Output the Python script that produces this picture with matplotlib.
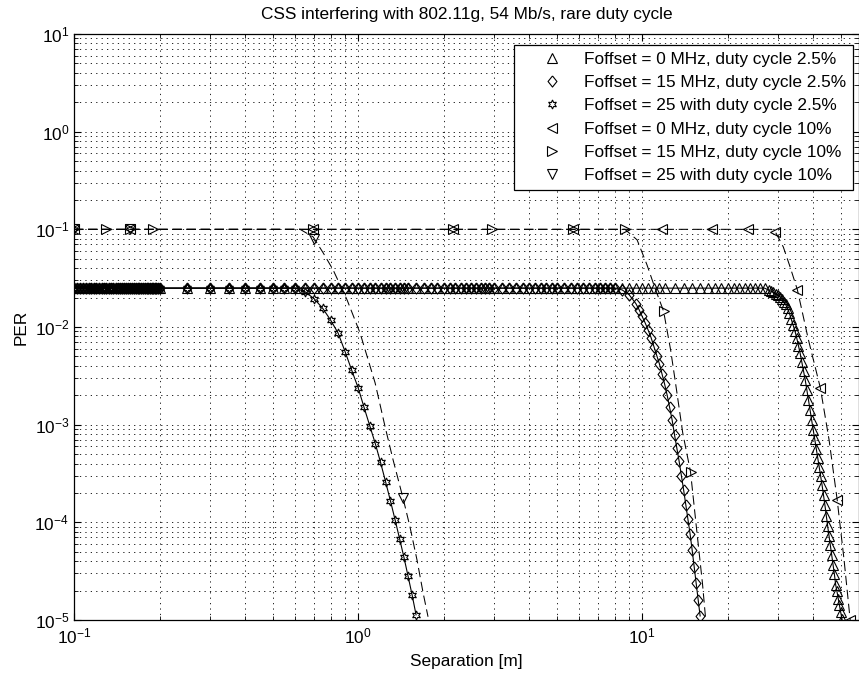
import matplotlib
matplotlib.use('Agg')
import matplotlib.pyplot as plt
from matplotlib.ticker import FixedLocator, NullFormatter

plt.rcParams['font.family'] = ['Liberation Sans', 'DejaVu Sans']
plt.rcParams['mathtext.default'] = 'regular'

# --- datos ---
per_25 = 0.025   # PER plano, duty cycle 2.5%
per_10 = 0.1     # PER plano, duty cycle 10%

# tramo plano comun de las curvas de 2.5%
x_flat_a = [0.1, 0.1025, 0.105, 0.1075, 0.11, 0.1125, 0.115, 0.1175, 0.12, 0.1225,
            0.125, 0.1275, 0.13, 0.1325, 0.135, 0.1375, 0.14, 0.1425, 0.145, 0.1475,
            0.15, 0.1525, 0.155, 0.1575, 0.16, 0.1625, 0.165, 0.1675, 0.17, 0.1725,
            0.175, 0.1775, 0.18, 0.1825, 0.185, 0.1875, 0.19, 0.1925, 0.195, 0.1975,
            0.2, 0.25, 0.3, 0.35, 0.4, 0.45, 0.5, 0.55, 0.6]
x_flat_b = [0.65, 0.7, 0.75, 0.8, 0.85, 0.9, 0.95, 1.0, 1.05, 1.1, 1.15, 1.2, 1.25,
            1.3, 1.35, 1.4, 1.45, 1.5, 1.6, 1.7, 1.8, 1.9, 2.0, 2.1, 2.2, 2.3, 2.4,
            2.5, 2.6, 2.7, 2.8, 2.9, 3.0, 3.2, 3.4, 3.6, 3.8, 4.0, 4.2, 4.4, 4.6,
            4.8, 5.0, 5.3, 5.6, 5.9, 6.2, 6.5, 6.8, 7.1, 7.4, 7.7]
x_flat_c = [8.0, 8.5, 9.0, 9.5, 10.0, 10.5, 11.0, 11.5, 12.0, 13.0, 14.0, 15.0,
            16.0, 17.0, 18.0, 19.0, 20.0, 21.0, 22.0, 23.0, 24.0, 25.0, 26.0, 27.0]

# caida Foffset = 25, 2.5%
star_drop_x = [0.65, 0.7, 0.75, 0.8, 0.85, 0.9, 0.95, 1.0, 1.05, 1.1, 1.15, 1.2,
               1.25, 1.3, 1.35, 1.4, 1.45, 1.5, 1.55, 1.6]
star_drop_y = [0.023, 0.0195, 0.0156, 0.0118, 0.0087, 0.0056, 0.0036, 0.0024,
               0.0015, 0.00097, 0.00064, 0.00041, 0.00026, 0.000166, 0.000106,
               6.8e-5, 4.4e-5, 2.8e-5, 1.8e-5, 1.13e-5]

# caida Foffset = 15 MHz, 2.5%
diam_drop_x = [8.0, 8.5, 9.0, 9.5, 9.75, 10.0, 10.25, 10.5, 10.75, 11.0, 11.25,
               11.5, 11.75, 12.0, 12.25, 12.5, 12.75, 13.0, 13.25, 13.5, 13.75,
               14.0, 14.25, 14.5, 14.75, 15.0, 15.25, 15.5, 15.75, 16.0]
diam_drop_y = [0.0248, 0.024, 0.0214, 0.0174, 0.0151, 0.0129, 0.011, 0.0093,
               0.0078, 0.0063, 0.0051, 0.0042, 0.0033, 0.0026, 0.002, 0.0015,
               0.00112, 7.9e-4, 5.75e-4, 4.2e-4, 3.0e-4, 2.14e-4, 1.5e-4,
               1.07e-4, 7.6e-5, 5.2e-5, 3.5e-5, 2.4e-5, 1.6e-5, 1.1e-5]

# caida Foffset = 0 MHz, 2.5%
tri_drop_x = [28, 28.5, 29, 29.5, 30, 30.5, 31, 31.5, 32, 32.5, 33, 33.5, 34, 34.5,
              35, 35.5, 36, 36.5, 37, 37.5, 38, 38.5, 39, 39.5, 40, 40.5, 41, 41.5,
              42, 42.5, 43, 43.5, 44, 44.5, 45, 45.5, 46, 46.5, 47, 47.5, 48, 48.5,
              49, 49.5, 50, 50.5, 51]
tri_drop_y = [0.0237, 0.0232, 0.0226, 0.022, 0.0214, 0.0204, 0.0195, 0.0182, 0.017,
              0.0155, 0.0138, 0.012, 0.0105, 0.00912, 0.00776, 0.00646, 0.00537,
              0.00437, 0.00355, 0.00288, 0.00229, 0.0018, 0.00141, 0.00112, 8.9e-4,
              7.1e-4, 5.6e-4, 4.6e-4, 3.7e-4, 3.0e-4, 2.4e-4, 1.9e-4, 1.5e-4,
              1.16e-4, 9.1e-5, 7.2e-5, 5.8e-5, 4.6e-5, 3.7e-5, 2.95e-5, 2.3e-5,
              1.97e-5, 1.66e-5, 1.41e-5, 1.2e-5, 1.03e-5, 8.9e-6]

# curvas de 10% (linea discontinua)
left_line_x = [0.1, 28.5, 29.4, 31.4, 33.2, 35.2, 38.5, 42.4, 45.5, 48.6, 51.4, 54.0]
left_line_y = [0.1, 0.1, 0.095, 0.066, 0.041, 0.024, 0.00738, 0.00238, 7.0e-4,
               1.7e-4, 4.1e-5, 1.0e-5]
left_mark_x = [0.1, 0.157, 0.695, 2.16, 5.71, 11.7, 17.6, 23.6, 29.4, 35.2, 42.4, 48.6, 54.0]
left_mark_y = [0.1, 0.1, 0.1, 0.1, 0.1, 0.1, 0.1, 0.1, 0.095, 0.024, 0.00238, 1.7e-4, 1.0e-5]

right_line_x = [0.1, 8.7, 9.6, 10.4, 11.1, 11.9, 12.6, 13.1, 13.9, 14.8, 15.6, 16.3, 16.8]
right_line_y = [0.1, 0.1, 0.078, 0.0433, 0.025, 0.0145, 0.0058, 0.0027, 8.2e-4,
                3.3e-4, 7.8e-5, 2.4e-5, 9.0e-6]
right_mark_x = [0.1, 0.13, 0.157, 0.19, 0.695, 2.16, 2.96, 5.71, 8.7, 11.9, 14.8]
right_mark_y = [0.1, 0.1, 0.1, 0.1, 0.1, 0.1, 0.1, 0.1, 0.1, 0.0145, 3.3e-4]

down_line_x = [0.1, 0.625, 0.695, 0.754, 0.817, 0.915, 1.016, 1.148, 1.245, 1.328,
               1.439, 1.523, 1.613, 1.694, 1.763]
down_line_y = [0.1, 0.1, 0.0836, 0.0573, 0.0384, 0.0189, 0.0087, 0.00268, 9.5e-4,
               4.37e-4, 1.78e-4, 9.0e-5, 4.1e-5, 1.9e-5, 1.08e-5]
down_mark_x = [0.1, 0.157, 0.7, 1.439]
down_mark_y = [0.1, 0.1, 0.08, 1.78e-4]

labels = ['Foffset = 0 MHz, duty cycle 2.5%',
          'Foffset = 15 MHz, duty cycle 2.5%',
          'Foffset = 25 with duty cycle 2.5%',
          'Foffset = 0 MHz, duty cycle 10%',
          'Foffset = 15 MHz, duty cycle 10%',
          'Foffset = 25 with duty cycle 10%']

x_ticks = [0.1, 1, 10]
y_ticks = [1e-5, 1e-4, 1e-3, 1e-2, 1e-1, 1, 10]
x_minor = [0.2, 0.3, 0.4, 0.5, 0.6, 0.7, 0.8, 0.9, 2, 3, 4, 5, 6, 7, 8, 9,
           20, 30, 40, 50]
y_minor = [m * d for d in y_ticks[:-1] for m in (2, 3, 4, 5, 6, 7, 8, 9)]

# --- series armadas ---
tri_x = x_flat_a + x_flat_b + x_flat_c + tri_drop_x
tri_y = [per_25] * len(x_flat_a + x_flat_b + x_flat_c) + tri_drop_y
diam_x = x_flat_a + x_flat_b + diam_drop_x
diam_y = [per_25] * len(x_flat_a + x_flat_b) + diam_drop_y
star_x = x_flat_a + star_drop_x
star_y = [per_25] * len(x_flat_a) + star_drop_y

FS = 12.4
fig = plt.figure(figsize=(8.59, 6.73), dpi=100)
ax = fig.add_axes([74 / 859, 53 / 673, 785 / 859, 586 / 673])
ax.set_xscale('log')
ax.set_yscale('log')

mk = dict(color='k', mfc='none', mec='k', mew=0.8, ls='none')
dash = (0, (9, 4.5))
diamond = [(0, 1), (0.8, 0), (0, -1), (-0.8, 0), (0, 1)]

# lineas
ax.plot(tri_x, tri_y, color='k', lw=0.8)
ax.plot(diam_x, diam_y, color='k', lw=0.8)
ax.plot(star_x, star_y, color='k', lw=0.8)
ax.plot(left_line_x, left_line_y, color='k', lw=0.75, ls=dash)
ax.plot(right_line_x, right_line_y, color='k', lw=0.75, ls=dash)
ax.plot(down_line_x, down_line_y, color='k', lw=0.75, ls=dash)

# marcadores
ax.plot(tri_x, tri_y, marker='^', ms=6.5, label=labels[0], **mk)
ax.plot(diam_x, diam_y, marker=diamond, ms=8, label=labels[1], **mk)
ax.plot(star_x, star_y, marker=(6, 1, 0), ms=6.5, label=labels[2], **mk)
ax.plot(left_mark_x, left_mark_y, marker='<', ms=6.5, label=labels[3], **mk)
ax.plot(right_mark_x, right_mark_y, marker='>', ms=6.5, label=labels[4], **mk)
ax.plot(down_mark_x, down_mark_y, marker='v', ms=6.5, label=labels[5], **mk)

ax.set_xlim(0.1, 58)
ax.set_ylim(1e-5, 10)
ax.set_xticks(x_ticks)
ax.set_yticks(y_ticks)
ax.xaxis.set_minor_locator(FixedLocator(x_minor))
ax.yaxis.set_minor_locator(FixedLocator(y_minor))
ax.xaxis.set_minor_formatter(NullFormatter())
ax.yaxis.set_minor_formatter(NullFormatter())

ax.grid(True, which='both', color='k', lw=0.6, ls=(0, (1.5, 5)))
ax.set_axisbelow(True)
ax.tick_params(which='both', direction='in', top=True, right=True, labelsize=FS)
ax.tick_params(which='major', length=5)
ax.tick_params(which='minor', length=3)
ax.tick_params(axis='x', pad=5)
for s in ax.spines.values():
    s.set_linewidth(0.9)

ax.set_title('CSS interfering with 802.11g, 54 Mb/s, rare duty cycle', fontsize=FS, pad=11)
ax.set_xlabel('Separation [m]', fontsize=FS, labelpad=5)
ax.set_ylabel('PER', fontsize=FS)

leg = ax.legend(loc='upper right', bbox_to_anchor=(0.992, 0.981), borderaxespad=0,
                fontsize=FS, fancybox=False, framealpha=1, edgecolor='k',
                handlelength=3.6, handletextpad=0.05, labelspacing=0.47, borderpad=0.4)
leg.get_frame().set_linewidth(0.9)

fig.savefig('out.png', dpi=100)
